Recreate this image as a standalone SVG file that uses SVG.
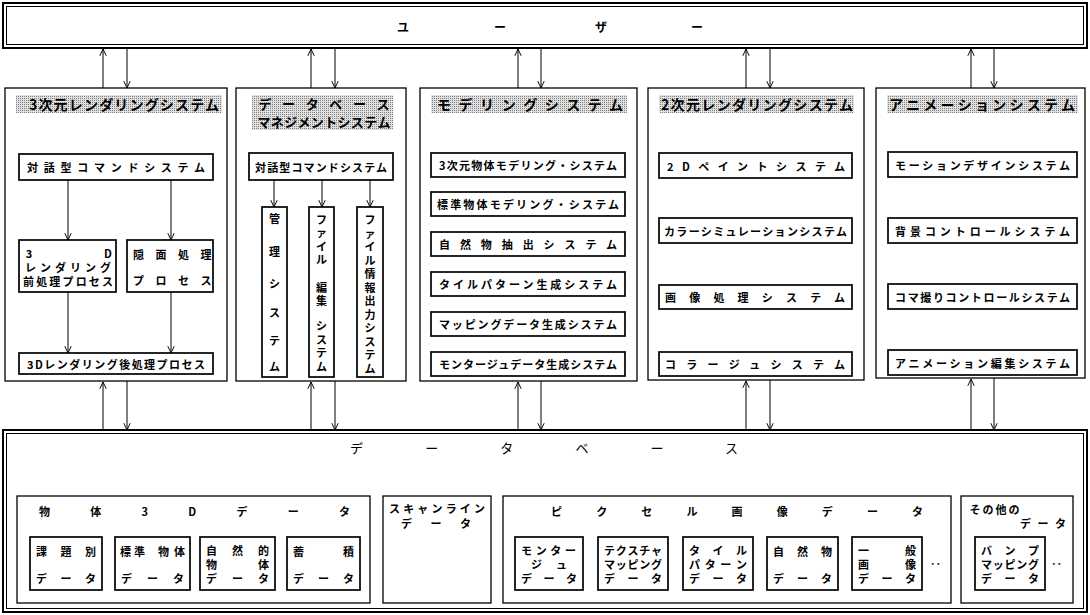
<svg xmlns="http://www.w3.org/2000/svg" width="1090" height="615" viewBox="0 0 1090 615">
<style>
.t{font-family:"Noto Sans CJK JP","Noto Sans CJK SC",sans-serif;font-weight:bold;font-size:11px;fill:#000;dominant-baseline:central}
.h{font-size:14px}
.n{font-weight:normal;font-size:13px}
.m{text-anchor:middle}
.sys{fill:#fff;stroke:#000;stroke-width:1.3}
.box{fill:#fff;stroke:#000;stroke-width:1.7}
.dbl1{fill:#fff;stroke:#000;stroke-width:2}
.dbl2{fill:none;stroke:#000;stroke-width:1}
.band{fill:url(#dots);stroke:none}
.ln{stroke:#000;stroke-width:1;fill:none;marker-end:url(#ah)}
</style>
<defs>
<pattern id="dots" width="2" height="2" patternUnits="userSpaceOnUse">
<rect width="2" height="2" fill="#e0e0e0"/>
<rect width="1" height="1" fill="#808080"/>
</pattern>
<marker id="ah" viewBox="0 0 10 10" refX="9.5" refY="5" markerWidth="8" markerHeight="8" orient="auto" markerUnits="userSpaceOnUse">
<path d="M1,1 L9.5,5 L1,9" fill="none" stroke="#000" stroke-width="1.2"/>
</marker>
</defs>
<rect width="1090" height="615" fill="#fff"/>

<g id="user">
<rect class="dbl1" x="3" y="3" width="1084" height="45"/>
<rect class="dbl2" x="6.5" y="6.5" width="1077" height="38"/>
<text class="t m" x="403 500 601 697" y="26" style="font-size:12px">ユーザー</text>
</g>

<g id="rendering3d">
<rect class="sys" x="5" y="88" width="222" height="293"/>
<rect class="band" x="16" y="95" width="206" height="18"/>
<text class="t h" x="29" y="104" textLength="190" lengthAdjust="spacing">3次元レンダリングシステム</text>
<g id="r3d-cmd"><rect class="box" x="19" y="154" width="194" height="26"/>
<text class="t" x="27" y="167" textLength="178" lengthAdjust="spacing">対話型コマンドシステム</text></g>
<g id="r3d-pre"><rect class="box" x="19" y="240" width="97" height="52"/>
<text class="t m"><tspan x="29 108" y="252.5">3D</tspan><tspan x="30.5 45.5 60.5 75.5 90.5 105.5" y="266.5">レンダリング</tspan><tspan x="28.5 41.7 54.8 68 81.2 94.3 107.5" y="280.5">前処理プロセス</tspan></text></g>
<g id="r3d-hidden"><rect class="box" x="127" y="240" width="86" height="52"/>
<text class="t m"><tspan x="138.5 161 183.5 206" y="254">隠面処理</tspan><tspan x="138.5 161 183.5 206" y="280">プロセス</tspan></text></g>
<g id="r3d-post"><rect class="box" x="19" y="353" width="194" height="21"/>
<text class="t" x="27" y="363.5" textLength="178" lengthAdjust="spacing">3Dレンダリング後処理プロセス</text></g>
</g>

<g id="dbms">
<rect class="sys" x="236" y="88" width="170" height="293"/>
<rect class="band" x="252" y="95" width="141" height="35"/>
<text class="t m" style="font-size:13px"><tspan x="265 288.6 312.2 335.8 359.4 383" y="103">データベース</tspan><tspan x="264 277.3 290.7 304 317.3 330.7 344 357.3 370.7 384" y="121">マネジメントシステム</tspan></text>
<g id="dbms-cmd"><rect class="box" x="249" y="153" width="144" height="27"/>
<text class="t" x="255" y="166.5" textLength="132" lengthAdjust="spacing">対話型コマンドシステム</text></g>
<g id="dbms-mgmt"><rect class="box" x="262" y="207" width="25" height="170"/>
<text class="t m" x="274.5 274.5 274.5 274.5 274.5 274.5" y="218 251 283 312 340 366">管理システム</text></g>
<g id="dbms-edit"><rect class="box" x="309" y="207" width="25" height="170"/>
<text class="t m" x="321.5 321.5 321.5 321.5 321.5 321.5 321.5 321.5 321.5 321.5" y="219 232 246 259 287 300 325 339 352 366">ファイル編集システム</text></g>
<g id="dbms-out"><rect class="box" x="357" y="207" width="26" height="170"/>
<text class="t m" x="370 370 370 370 370 370 370 370 370 370 370 370" y="219 232.5 246 259.5 273 286.5 300 313.5 327 340.5 354 367.5">ファイル情報出力システム</text></g>
</g>

<g id="modeling">
<rect class="sys" x="420" y="88" width="217" height="293"/>
<rect class="band" x="431" y="95" width="196" height="18"/>
<text class="t h" x="437" y="104" textLength="186" lengthAdjust="spacing">モデリングシステム</text>
<g id="mod-1"><rect class="box" x="431" y="153" width="194" height="24"/>
<text class="t" x="439" y="165" textLength="178" lengthAdjust="spacing">3次元物体モデリング・システム</text></g>
<g id="mod-2"><rect class="box" x="431" y="192" width="194" height="24"/>
<text class="t" x="437" y="204" textLength="182" lengthAdjust="spacing">標準物体モデリング・システム</text></g>
<g id="mod-3"><rect class="box" x="431" y="232" width="194" height="24"/>
<text class="t" x="439" y="244" textLength="178" lengthAdjust="spacing">自然物抽出システム</text></g>
<g id="mod-4"><rect class="box" x="431" y="272" width="194" height="24"/>
<text class="t" x="439" y="284" textLength="178" lengthAdjust="spacing">タイルパターン生成システム</text></g>
<g id="mod-5"><rect class="box" x="431" y="312" width="194" height="24"/>
<text class="t" x="439" y="324" textLength="178" lengthAdjust="spacing">マッピングデータ生成システム</text></g>
<g id="mod-6"><rect class="box" x="431" y="352" width="194" height="24"/>
<text class="t" x="439" y="364" textLength="178" lengthAdjust="spacing">モンタージュデータ生成システム</text></g>
</g>

<g id="rendering2d">
<rect class="sys" x="648" y="88" width="216" height="292"/>
<rect class="band" x="659" y="95" width="195" height="18"/>
<text class="t h" x="661" y="104" textLength="192" lengthAdjust="spacing">2次元レンダリングシステム</text>
<g id="r2d-1"><rect class="box" x="659" y="153" width="193" height="25"/>
<text class="t" x="667" y="165.5" textLength="178" lengthAdjust="spacing">2Dペイントシステム</text></g>
<g id="r2d-2"><rect class="box" x="659" y="218" width="193" height="25"/>
<text class="t" x="664" y="230.5" textLength="183" lengthAdjust="spacing">カラーシミュレーションシステム</text></g>
<g id="r2d-3"><rect class="box" x="659" y="285" width="193" height="24"/>
<text class="t" x="665" y="297" textLength="180" lengthAdjust="spacing">画像処理システム</text></g>
<g id="r2d-4"><rect class="box" x="659" y="352" width="193" height="24"/>
<text class="t" x="665" y="364" textLength="180" lengthAdjust="spacing">コラージュシステム</text></g>
</g>

<g id="animation">
<rect class="sys" x="876" y="88" width="209" height="290"/>
<rect class="band" x="887" y="95" width="191" height="18"/>
<text class="t h" x="889" y="104" textLength="186" lengthAdjust="spacing">アニメーションシステム</text>
<g id="ani-1"><rect class="box" x="888" y="152" width="189" height="25"/>
<text class="t" x="895" y="164.5" textLength="175" lengthAdjust="spacing">モーションデザインシステム</text></g>
<g id="ani-2"><rect class="box" x="888" y="218" width="189" height="25"/>
<text class="t" x="895" y="230.5" textLength="175" lengthAdjust="spacing">背景コントロールシステム</text></g>
<g id="ani-3"><rect class="box" x="888" y="284" width="189" height="25"/>
<text class="t" x="895" y="296.5" textLength="175" lengthAdjust="spacing">コマ撮りコントロールシステム</text></g>
<g id="ani-4"><rect class="box" x="888" y="350" width="189" height="25"/>
<text class="t" x="895" y="362.5" textLength="175" lengthAdjust="spacing">アニメーション編集システム</text></g>
</g>

<g id="database">
<rect class="dbl1" x="3" y="430" width="1084" height="182"/>
<rect class="dbl2" x="6.5" y="433.5" width="1077" height="175"/>
<text class="t n" x="350" y="447" textLength="388" lengthAdjust="spacing">データベース</text>

<g id="obj3d">
<rect class="sys" x="17" y="496" width="353" height="107"/>
<text class="t" x="39" y="511" textLength="311" lengthAdjust="spacing">物体3Dデータ</text>
<g id="obj-a"><rect class="box" x="30" y="537" width="72" height="53"/>
<text class="t m"><tspan x="41.5 66 90.5" y="551">課題別</tspan><tspan x="41.5 66 90.5" y="578">データ</tspan></text></g>
<g id="obj-b"><rect class="box" x="115" y="537" width="75" height="53"/>
<text class="t m"><tspan x="125.5 139.5 163.5 179.5" y="551">標準物体</tspan><tspan x="126.5 152.5 178.5" y="578">データ</tspan></text></g>
<g id="obj-c"><rect class="box" x="200" y="537" width="75" height="53"/>
<text class="t m"><tspan x="211.5 237.5 263.5" y="550">自然的</tspan><tspan x="211.5 263.5" y="564">物体</tspan><tspan x="211.5 237.5 263.5" y="578">データ</tspan></text></g>
<g id="obj-d"><rect class="box" x="287" y="537" width="73" height="53"/>
<text class="t m"><tspan x="298.5 348.5" y="551">蓄積</tspan><tspan x="298.5 323.5 348.5" y="578">データ</tspan></text></g>
</g>

<g id="scanline">
<rect class="sys" x="383" y="496" width="108" height="107"/>
<text class="t m"><tspan x="394.5 408.7 422.8 437 451.2 465.3 479.5" y="508">スキャンライン</tspan><tspan x="406.5 436 465.5" y="522.5">データ</tspan></text>
</g>

<g id="pixel">
<rect class="sys" x="503" y="496" width="448" height="107"/>
<text class="t" x="551" y="511" textLength="372" lengthAdjust="spacing">ピクセル画像データ</text>
<g id="px-a"><rect class="box" x="515" y="537" width="68" height="53"/>
<text class="t m"><tspan x="526.5 541.2 555.8 570.5" y="550">モンター</tspan><tspan x="536.5 561.5" y="564">ジュ</tspan><tspan x="526.5 549 571.5" y="578">データ</tspan></text></g>
<g id="px-b"><rect class="box" x="598" y="537" width="70" height="53"/>
<text class="t m"><tspan x="609.5 621.2 633 644.8 656.5" y="550">テクスチャ</tspan><tspan x="609.5 621.2 633 644.8 656.5" y="564">マッピング</tspan><tspan x="609.5 633 656.5" y="578">データ</tspan></text></g>
<g id="px-c"><rect class="box" x="683" y="537" width="70" height="53"/>
<text class="t m"><tspan x="694.5 718 741.5" y="550">タイル</tspan><tspan x="694.5 710.2 725.8 741.5" y="564">パターン</tspan><tspan x="694.5 718 741.5" y="578">データ</tspan></text></g>
<g id="px-d"><rect class="box" x="767" y="537" width="71" height="53"/>
<text class="t m"><tspan x="778.5 802.5 826.5" y="551">自然物</tspan><tspan x="778.5 802.5 826.5" y="578">データ</tspan></text></g>
<g id="px-e"><rect class="box" x="852" y="537" width="70" height="53"/>
<text class="t m"><tspan x="863.5 910.5" y="550">一般</tspan><tspan x="863.5 910.5" y="564">画像</tspan><tspan x="863.5 887 910.5" y="578">データ</tspan></text></g>
<text class="t" x="930" y="563">‥</text>
</g>

<g id="other">
<rect class="sys" x="961" y="496" width="112" height="107"/>
<text class="t m"><tspan x="975 988 1001 1014" y="509">その他の</tspan><tspan x="1025.5 1043 1060.5" y="523">データ</tspan></text>
<g id="ot-a"><rect class="box" x="975" y="537" width="70" height="53"/>
<text class="t m"><tspan x="986.5 1010 1033.5" y="550">バンプ</tspan><tspan x="986.5 998.2 1010 1021.8 1033.5" y="564">マッピング</tspan><tspan x="986.5 1010 1033.5" y="578">データ</tspan></text></g>
<text class="t" x="1051" y="563">‥</text>
</g>
</g>

<g id="connectors">
<line class="ln" x1="103" y1="88" x2="103" y2="49"/>
<line class="ln" x1="127" y1="49" x2="127" y2="88"/>
<line class="ln" x1="311" y1="88" x2="311" y2="49"/>
<line class="ln" x1="335" y1="49" x2="335" y2="88"/>
<line class="ln" x1="518" y1="88" x2="518" y2="49"/>
<line class="ln" x1="541" y1="49" x2="541" y2="88"/>
<line class="ln" x1="746" y1="88" x2="746" y2="49"/>
<line class="ln" x1="770" y1="49" x2="770" y2="88"/>
<line class="ln" x1="971" y1="88" x2="971" y2="49"/>
<line class="ln" x1="994" y1="49" x2="994" y2="88"/>

<line class="ln" x1="103" y1="430" x2="103" y2="382"/>
<line class="ln" x1="127" y1="381" x2="127" y2="430"/>
<line class="ln" x1="311" y1="430" x2="311" y2="382"/>
<line class="ln" x1="335" y1="381" x2="335" y2="430"/>
<line class="ln" x1="518" y1="430" x2="518" y2="382"/>
<line class="ln" x1="541" y1="381" x2="541" y2="430"/>
<line class="ln" x1="746" y1="430" x2="746" y2="381"/>
<line class="ln" x1="770" y1="380" x2="770" y2="430"/>
<line class="ln" x1="971" y1="430" x2="971" y2="379"/>
<line class="ln" x1="994" y1="378" x2="994" y2="430"/>

<line class="ln" x1="68" y1="180" x2="68" y2="240"/>
<line class="ln" x1="171" y1="180" x2="171" y2="240"/>
<line class="ln" x1="68" y1="292" x2="68" y2="353"/>
<line class="ln" x1="171" y1="292" x2="171" y2="353"/>

<line class="ln" x1="274" y1="180" x2="274" y2="207"/>
<line class="ln" x1="322" y1="180" x2="322" y2="207"/>
<line class="ln" x1="370" y1="180" x2="370" y2="207"/>
</g>
</svg>
